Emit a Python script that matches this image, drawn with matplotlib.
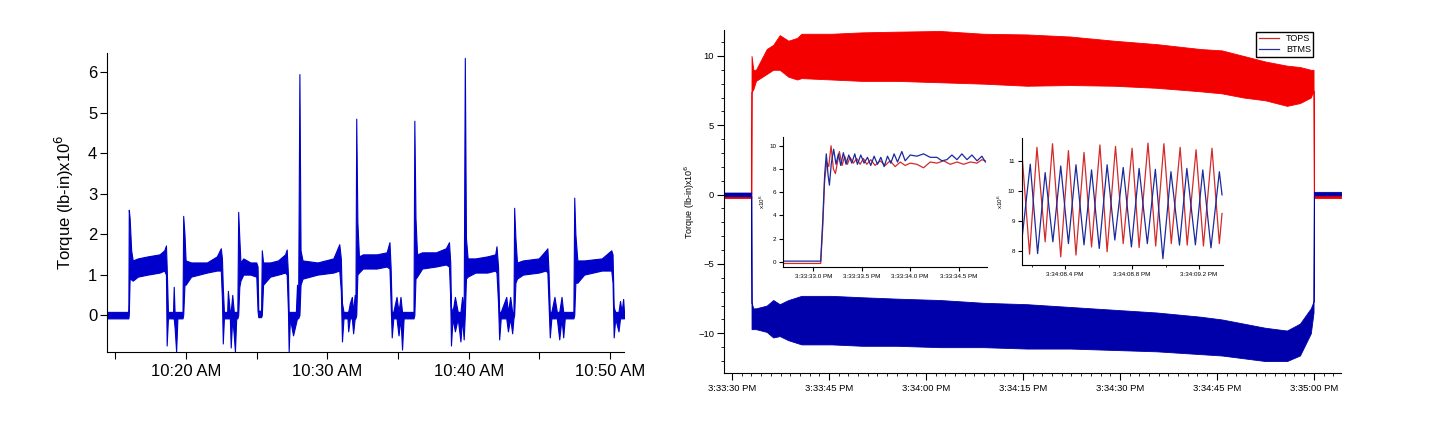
import numpy as np, matplotlib
matplotlib.use("Agg"); import matplotlib.pyplot as plt
from matplotlib.ticker import FuncFormatter, MultipleLocator
from matplotlib.lines import Line2D
plt.rcParams.update({"font.family":"Liberation Sans","axes.linewidth":0.8})
W,H=1439,425

# left panel: torque envelope (minutes after 10:00 AM, x10^6 lb-in), one line per load block
LT=[14.41,15.92,15.95,16.01,16.12,16.23,16.59,17.29,18.13,18.46,18.58,
    18.63,18.72,19.08,19.13,19.19,19.30,19.39,19.75,
    19.80,19.89,19.97,20.36,21.48,22.18,22.46,
    22.54,22.60,22.68,22.91,22.96,23.10,23.16,23.27,23.38,23.46,23.55,23.63,
    23.69,23.77,23.85,24.05,24.55,24.97,
    25.06,25.11,25.31,
    25.36,25.45,25.95,26.51,27.01,27.12,
    27.21,27.26,27.35,27.57,27.77,27.85,27.93,
    28.02,28.10,28.24,29.30,30.42,30.84,
    30.95,31.03,31.14,31.42,31.47,31.59,31.73,31.82,31.93,31.98,
    32.04,32.12,32.23,32.51,33.49,34.19,34.39,
    34.47,34.55,34.66,34.89,35.03,35.17,35.28,35.39,36.09,
    36.15,36.23,36.34,36.70,37.68,38.38,38.60,
    38.69,38.74,38.85,39.02,39.22,39.41,39.53,39.64,
    39.72,39.80,39.92,40.47,41.31,41.87,41.96,
    42.07,42.15,42.26,42.65,42.77,42.93,43.07,43.16,
    43.21,43.30,43.41,43.83,44.95,45.45,45.56,
    45.64,45.73,45.84,46.06,46.23,46.40,46.56,46.68,46.79,47.40,
    47.46,47.54,47.68,48.16,49.41,50.08,
    50.17,50.25,50.36,50.59,50.70,50.81,50.92,50.98]
LHI=[0.08,0.08,2.60,2.40,1.60,1.35,1.40,1.45,1.50,1.60,1.72,
     1.20,0.08,0.08,0.70,0.08,0.08,0.08,0.08,
     2.45,2.00,1.35,1.30,1.30,1.45,1.65,
     1.40,0.70,0.08,0.08,0.60,0.08,0.08,0.50,0.08,0.08,0.08,0.08,
     2.55,1.90,1.30,1.40,1.30,1.30,
     1.20,0.12,0.10,
     1.60,1.30,1.30,1.35,1.50,1.62,
     1.00,0.08,0.08,0.08,0.08,0.75,0.30,
     5.95,1.60,1.35,1.30,1.40,1.75,
     1.40,0.30,0.08,0.08,0.08,0.30,0.45,0.08,0.50,0.08,
     4.85,2.30,1.45,1.50,1.50,1.55,1.80,
     1.20,0.08,0.08,0.45,0.08,0.45,0.08,0.08,0.08,
     4.80,2.40,1.50,1.55,1.55,1.65,1.80,
     1.30,0.20,0.08,0.45,0.08,0.08,0.45,0.08,
     6.35,1.90,1.40,1.40,1.45,1.50,1.70,
     1.20,0.08,0.08,0.45,0.08,0.45,0.08,0.08,
     2.65,1.90,1.30,1.35,1.40,1.60,1.65,
     1.10,0.08,0.08,0.45,0.08,0.08,0.45,0.08,0.08,0.08,
     2.90,2.00,1.35,1.35,1.40,1.60,
     1.50,0.20,0.08,0.08,0.35,0.08,0.40,0.08]
LLO=[-0.08,-0.08,0.00,0.90,0.88,0.85,0.95,1.00,1.05,1.10,1.00,
     -0.75,-0.08,-0.08,-0.08,-0.30,-0.90,-0.08,-0.08,
     0.00,0.75,0.75,0.95,1.05,1.10,1.10,
     0.40,-0.70,-0.08,-0.08,-0.08,-0.08,-0.80,-0.08,-0.50,-0.90,-0.08,-0.08,
     0.00,0.70,0.85,1.00,1.00,0.95,
     0.10,-0.05,-0.05,
     0.00,0.75,0.95,1.00,1.05,1.00,
     0.10,-0.90,-0.08,-0.50,-0.20,-0.08,-0.08,
     0.00,0.75,0.90,1.00,1.05,1.10,
     0.60,-0.65,-0.08,-0.08,-0.40,-0.08,-0.08,-0.45,-0.08,-0.08,
     0.00,1.00,1.05,1.15,1.15,1.20,1.15,
     0.30,-0.55,-0.08,-0.08,-0.50,-0.08,-0.85,-0.08,-0.08,
     0.00,0.90,0.95,1.15,1.20,1.25,1.20,
     0.40,-0.75,-0.08,-0.40,-0.08,-0.65,-0.08,-0.60,
     0.00,0.90,0.95,1.05,1.05,1.10,1.05,
     0.30,-0.60,-0.08,-0.08,-0.40,-0.08,-0.45,-0.08,
     0.00,0.80,0.90,1.00,1.05,1.10,1.05,
     0.30,-0.55,-0.08,-0.08,-0.08,-0.60,-0.08,-0.55,-0.08,-0.08,
     0.00,0.80,0.80,1.00,1.10,1.10,
     0.80,-0.55,-0.08,-0.40,-0.08,-0.08,-0.08,-0.08]

# right panel: envelopes (seconds after 3:33:30 PM)
RT=[-1.24,2.98,3.02,3.3,3.7,5.37,6.37,7.38,8.72,10.07,10.74,15.43,20.12,25.48,32.19,38.9,45.6,52.31,59.01,65.72,72.43,75.77,79.13,82.48,85.84,87.85,89.53,89.95,90.0,94.2]
TOPS_HI=[0.12,0.12,10.0,9.0,9.0,10.5,10.8,11.5,11.1,11.3,11.6,11.6,11.7,11.75,11.8,11.6,11.55,11.4,11.1,10.85,10.5,10.4,10.0,9.6,9.3,9.2,9.0,9.0,0.1,0.1]
TOPS_LO=[-0.25,-0.25,7.4,7.6,8.2,8.7,9.0,9.0,8.5,8.3,8.4,8.3,8.2,8.2,8.1,8.0,7.85,7.9,7.85,7.7,7.45,7.3,7.0,6.8,6.4,6.6,7.0,7.5,-0.25,-0.25]
BTMS_HI=[0.15,0.15,-7.8,-8.2,-8.2,-8.0,-7.6,-7.9,-7.6,-7.4,-7.3,-7.3,-7.4,-7.5,-7.6,-7.8,-7.9,-8.1,-8.3,-8.5,-8.8,-9.0,-9.3,-9.6,-9.8,-9.3,-8.2,-7.7,0.2,0.2]
BTMS_LO=[-0.12,-0.12,-9.7,-9.7,-9.7,-9.9,-10.3,-10.2,-10.5,-10.7,-10.8,-10.8,-10.9,-10.9,-11.0,-11.0,-11.1,-11.1,-11.2,-11.3,-11.5,-11.6,-11.8,-12.0,-12.0,-11.6,-10.0,-8.5,-0.05,-0.05]

# inset 1: step (s after 3:33:30 PM)
I1_RT=[2.69,3.076,3.097,3.117,3.138,3.159,3.183,3.207,3.228,3.269,3.297,3.324,3.352,3.379,3.414,3.448,3.483,3.517,3.552,3.593,3.638,3.69,3.741,3.793,3.845,3.897,3.948,4.0,4.069,4.138,4.207,4.276,4.345,4.414,4.483,4.552,4.621,4.69,4.741,4.776]
I1_RV=[-0.15,-0.15,3.0,7.0,8.6,8.2,10.0,8.0,7.6,9.5,8.3,9.1,8.4,9.0,8.5,8.9,8.4,8.9,8.4,8.8,8.3,8.7,8.3,8.7,8.2,8.6,8.3,8.5,8.4,8.1,8.6,8.5,8.7,8.4,8.6,8.4,8.6,8.5,8.8,8.7]
I1_BT=[2.69,3.076,3.097,3.117,3.134,3.152,3.166,3.186,3.21,3.234,3.259,3.283,3.31,3.338,3.366,3.397,3.428,3.455,3.49,3.524,3.559,3.593,3.628,3.662,3.697,3.731,3.766,3.8,3.834,3.869,3.914,3.948,4.0,4.069,4.138,4.207,4.276,4.328,4.379,4.431,4.483,4.534,4.586,4.638,4.69,4.741,4.776]
I1_BV=[0.05,0.05,3.5,7.5,9.3,7.5,6.6,8.5,9.7,8.4,9.3,8.3,9.4,8.4,9.2,8.5,9.3,8.4,9.2,8.5,9.0,8.3,9.1,8.4,9.0,8.2,9.1,8.5,9.3,8.6,9.5,8.7,9.2,9.1,9.3,9.0,9.0,8.7,8.8,9.2,8.8,9.3,8.8,9.2,8.7,9.1,8.6]
# inset 2: oscillation peaks/troughs
I2_RT=[38.143,38.188,38.232,38.281,38.325,38.374,38.420,38.465,38.513,38.558,38.608,38.651,38.701,38.747,38.800,38.842,38.895,38.941,38.990,39.034,39.087,39.129,39.182,39.226,39.277,39.321,39.337]
I2_RV=[11.2,7.89,11.44,8.3,11.56,7.8,11.33,7.86,11.27,8.13,11.52,7.97,11.47,8.24,11.41,8.11,11.58,8.16,11.56,8.24,11.44,8.19,11.36,8.16,11.41,8.24,9.24]
I2_BT=[38.143,38.192,38.236,38.281,38.327,38.374,38.420,38.465,38.513,38.558,38.604,38.651,38.697,38.747,38.796,38.842,38.891,38.939,38.984,39.032,39.083,39.127,39.178,39.222,39.271,39.321,39.337]
I2_BV=[8.41,10.88,7.91,10.6,8.3,10.82,8.24,10.86,8.2,10.69,8.08,10.86,8.36,10.77,8.13,10.74,8.24,10.71,7.74,10.63,8.19,10.74,8.2,10.69,8.1,10.63,9.86]

BL,RED,DB="#0000cc","#f50000","#0000aa"
def clock(s,dec=0):
    tot=33*60+30+s; mm=int(tot//60+1e-9); ss=tot-60*mm
    return f"3:{mm:02d}:{ss:04.1f} PM" if dec else f"3:{mm:02d}:{ss:02.0f} PM"
def style(a,fs,ln=5):
    for s in ["top","right"]: a.spines[s].set_visible(False)
    a.tick_params(which="major",direction="out",length=ln,width=0.8,labelsize=fs,pad=2)
    a.tick_params(which="minor",direction="out",length=ln/2,width=0.6)

fig=plt.figure(figsize=(W/100,H/100),dpi=100)
ax=fig.add_axes([107/W,1-352/H,517/W,299/H])
ax.fill_between(LT,LLO,LHI,color=BL,lw=0.8)
ax.set_xlim(14.41,50.98); ax.set_ylim(-0.91,6.47)
ax.set_xticks(np.arange(15,51,5)); ax.set_yticks(range(7))
ax.xaxis.set_major_formatter(FuncFormatter(lambda m,p:f"10:{int(round(m)):02d} AM" if round(m)%10==0 else ""))
style(ax,12); ax.tick_params(axis="x",pad=4)
ax.set_ylabel("Torque (lb-in)x10$^6$",fontsize=12); ax.yaxis.set_label_coords(-0.060,0.5)

ar=fig.add_axes([724/W,1-372.7/H,617/W,342.7/H])
ar.fill_between(RT,TOPS_LO,TOPS_HI,color=RED,lw=0.6)
ar.fill_between(RT,BTMS_LO,BTMS_HI,color=DB,lw=0.6)
ar.set_xlim(-1.24,94.2); ar.set_ylim(-12.84,11.87)
ar.xaxis.set_major_locator(MultipleLocator(15)); ar.xaxis.set_minor_locator(MultipleLocator(1.5))
ar.yaxis.set_major_locator(MultipleLocator(5)); ar.yaxis.set_minor_locator(MultipleLocator(1))
ar.xaxis.set_major_formatter(FuncFormatter(lambda s,p:clock(s)))
style(ar,6.8); ar.tick_params(axis="x",pad=3)
ar.set_ylabel("Torque (lb-in)x10$^6$",fontsize=6.5); ar.yaxis.set_label_coords(-0.044,0.5)
ar.legend([Line2D([],[],color="#cc2a2a",lw=0.9),Line2D([],[],color="#25308f",lw=0.9)],["TOPS","BTMS"],
          loc="upper right",bbox_to_anchor=(1318/W,1-27/H),bbox_transform=fig.transFigure,fontsize=6.5,
          fancybox=False,edgecolor="black",framealpha=1,handlelength=2.2,borderpad=0.3,labelspacing=0.2)

IR,IB="#d42a2a","#1b2a9c"
a1=fig.add_axes([783.3/W,1-266.7/H,203.4/W,130/H])
a1.plot(I1_RT,I1_RV,color=IR,lw=0.9); a1.plot(I1_BT,I1_BV,color=IB,lw=0.9)
a1.set_xlim(2.69,4.79); a1.set_ylim(-0.43,10.78)
a1.set_xticks([3.0,3.5,4.0,4.5]); a1.set_yticks(range(0,11,2))
a1.xaxis.set_major_formatter(FuncFormatter(lambda s,p:clock(s,1)))
style(a1,4.5,3); a1.set_ylabel("x10$^6$",fontsize=4.5,labelpad=2)

a2=fig.add_axes([1021.7/W,1-265/H,201/W,126.7/H])
a2.plot(I2_RT,I2_RV,color=IR,lw=0.9); a2.plot(I2_BT,I2_BV,color=IB,lw=0.9)
a2.set_xlim(38.141,39.341); a2.set_ylim(7.53,11.74)
a2.set_xticks([38.4,38.8,39.2]); a2.set_xticks([38.2,38.6,39.0],minor=True); a2.set_yticks([8,9,10,11])
a2.xaxis.set_major_formatter(FuncFormatter(lambda s,p:clock(s,1)))
style(a2,4.5,3); a2.set_ylabel("x10$^6$",fontsize=4.5,labelpad=2)

fig.savefig("out.png",dpi=100)
